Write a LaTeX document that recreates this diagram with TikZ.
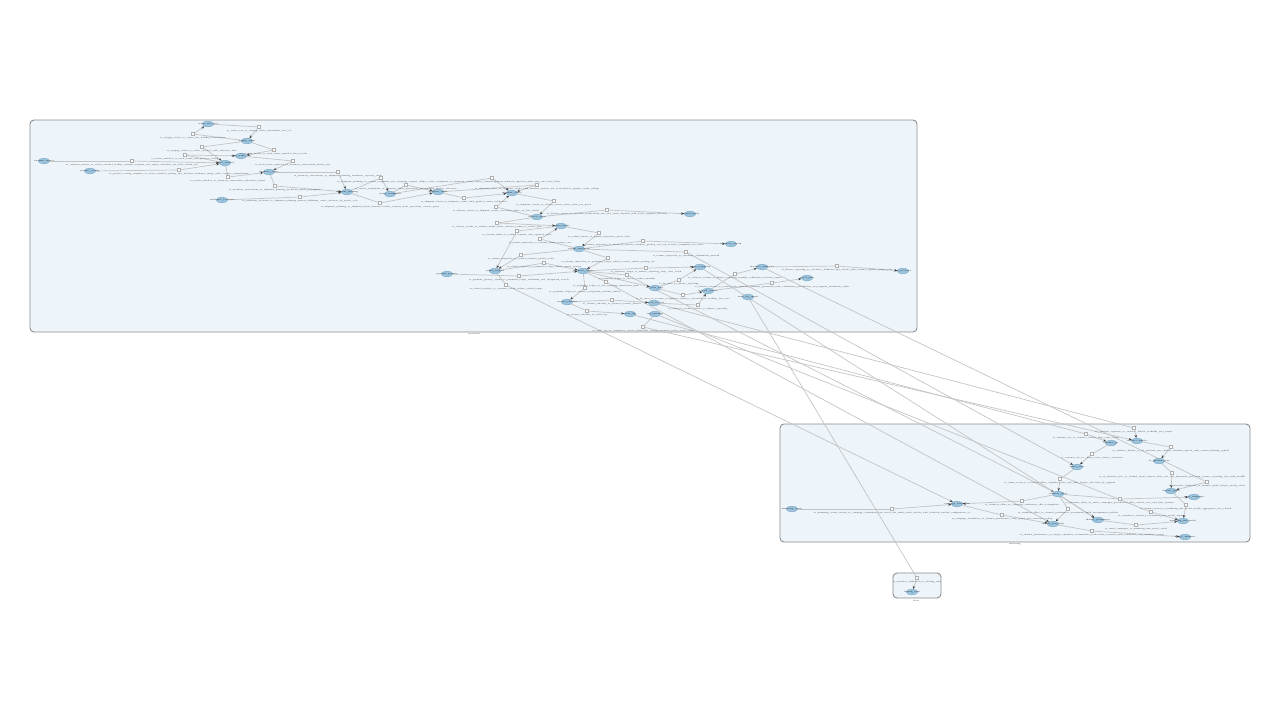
\documentclass[tikz,border=0pt]{standalone}
\usetikzlibrary{arrows.meta,shapes.geometric}
\pgfdeclarelayer{bgclust}
\pgfdeclarelayer{bgedge}
\pgfsetlayers{bgclust,bgedge,main}
\definecolor{clfill}{RGB}{237,244,250}
\definecolor{clline}{RGB}{140,140,140}
\definecolor{nfill}{RGB}{157,197,222}
\definecolor{nline}{RGB}{125,170,200}
\definecolor{edgec}{RGB}{196,196,196}
\definecolor{sqline}{RGB}{175,175,175}
\newcommand\edgevia[3]{\draw[e0] (#1) -- (#2); \draw[ea] (#2) -- (#3);}
\begin{document}
\catcode`\_=12
\begin{tikzpicture}[x=0.5pt,y=-0.5pt,
  cl/.style={draw=clline,fill=clfill,line width=0.45pt,rounded corners=2pt},
  cll/.style={font=\fontsize{0.95}{1.2}\selectfont,inner sep=0pt,text=black!85},
  en/.style={ellipse,draw=nline,fill=nfill,line width=0.25pt,minimum width=5.6pt,minimum height=2.8pt,inner sep=0pt},
  nt/.style={font=\fontsize{0.95}{1.2}\selectfont,inner sep=0pt,text=black},
  sq/.style={rectangle,draw=sqline,fill=white,line width=0.25pt,minimum size=1.7pt,inner sep=0pt},
  lab/.style={font=\fontsize{0.92}{1.1}\selectfont,inner sep=0pt,text=black!88},
  e0/.style={draw=edgec,line width=0.35pt},
  ea/.style={draw=edgec,line width=0.35pt,-{Stealth[length=1.5pt,width=1.2pt,color=black!75]}},
  label distance=0.25pt
]
\useasboundingbox (0,0) rectangle (1280,720);
\begin{pgfonlayer}{bgclust}
\draw[cl] (30,120) rectangle (917,332);
\draw[cl] (780,424) rectangle (1250,542);
\draw[cl] (893,573) rectangle (941,598);
\end{pgfonlayer}
\node[cll] (k1) at (474,334.5) {operations};
\node[cll] (k2) at (1015,544.5) {marketing};
\node[cll] (k3) at (916,600.5) {alerts};

% main cluster nodes
\node[en,label={[nt]center:orders_raw_feed}] (m1) at (208,124) {};
\node[en,label={[nt]center:staging_orders}] (m2) at (247,141) {};
\node[en,label={[nt]center:order_items_exp}] (m3) at (241,156) {};
\node[en,label={[nt]center:customer_master}] (m4) at (44,161) {};
\node[en,label={[nt]center:orders_enriched}] (m5) at (225,163) {};
\node[en,label={[nt]center:product_catalog}] (m6) at (90,171) {};
\node[en,label={[nt]center:inventory_reserv}] (m7) at (269,172) {};
\node[en,label={[nt]center:warehouse_locations}] (m8) at (222,200) {};
\node[en,label={[nt]center:shipment_planning}] (m9) at (347,192) {};
\node[en,label={[nt]center:carrier_assignment}] (m10) at (390,194) {};
\node[en,label={[nt]center:shipment_labels}] (m11) at (438,192) {};
\node[en,label={[nt]center:shipment_events}] (m12) at (512,193) {};
\node[en,label={[nt]center:customer_notify}] (m13) at (690,214) {};
\node[en,label={[nt]center:delivery_status}] (m14) at (537,217) {};
\node[en,label={[nt]center:returns_intake}] (m15) at (561,226) {};
\node[en,label={[nt]center:inventory_restock}] (m16) at (731,244) {};
\node[en,label={[nt]center:returns_inspection}] (m17) at (579,249) {};
\node[en,label={[nt]center:payment_gateway}] (m18) at (447,274) {};
\node[en,label={[nt]center:refund_requests}] (m19) at (495,271) {};
\node[en,label={[nt]center:payments_ledger}] (m20) at (583,271) {};
\node[en,label={[nt]center:finance_reporting}] (m21) at (700,267) {};
\node[en,label={[nt]center:executive_dashboard}] (m22) at (762,267) {};
\node[en,label={[nt]center:kpi_scorecard}] (m23) at (903,271) {};
\node[en,label={[nt]center:board_pack}] (m24) at (807,278) {};
\node[en,label={[nt]center:fx_rates_daily}] (m25) at (655,288) {};
\node[en,label={[nt]center:deferred_revenue}] (m26) at (708,291) {};
\node[en,label={[nt]center:audit_log_export}] (m27) at (748,297) {};
\node[en,label={[nt]center:revenue_schedule}] (m28) at (567,302) {};
\node[en,label={[nt]center:deferred_rev_bal}] (m29) at (654,303) {};
\node[en,label={[nt]center:audit_log}] (m30) at (630,314) {};
\node[en,label={[nt]center:tax_reporting}] (m31) at (655,314) {};

% main cluster edge label squares
\node[sq,label={[lab]below:rs_orders_raw_to_staging_orders_incremental_load_v2}] (s1) at (259,127) {};
\node[sq,label={[lab]below:rs_staging_orders_to_orders_raw_backfill_reconciliation}] (s2) at (193,134) {};
\node[sq,label={[lab]below:rs_staging_orders_to_orders_enriched_with_customer_dims}] (s3) at (202,147) {};
\node[sq,label={[lab]below:rs_staging_orders_to_order_items_exploded_line_records}] (s4) at (274,150) {};
\node[sq,label={[lab]below:rs_orders_enriched_to_order_items_join_product_catalog}] (s5) at (185,155) {};
\node[sq,label={[lab]below:rs_customer_master_to_orders_enriched_lookup_customer_segment_and_region_attributes_for_daily_refresh_job}] (s6) at (132,161) {};
\node[sq,label={[lab]below:rs_order_items_exploded_to_inventory_reservations_hourly_sync}] (s7) at (293,161) {};
\node[sq,label={[lab]below:rs_product_catalog_snapshot_to_orders_enriched_pricing_and_discount_attributes_merge_with_currency_normalisation}] (s8) at (179,170) {};
\node[sq,label={[lab]below:rs_orders_enriched_to_inventory_reservations_allocation_request}] (s9) at (228,177) {};
\node[sq,label={[lab]below:rs_inventory_reservations_to_shipment_planning_warehouse_capacity_check}] (s10) at (338,172) {};
\node[sq,label={[lab]below:rs_inventory_reservations_to_shipment_planning_backorder_queue_propagation}] (s11) at (275,186) {};
\node[sq,label={[lab]below:rs_warehouse_locations_to_shipment_planning_nearest_fulfilment_centre_selection_by_postal_code}] (s12) at (300,197) {};
\node[sq,label={[lab]below:rs_shipment_planning_to_carrier_assignment_rate_shopping_request_daily}] (s13) at (381,178) {};
\node[sq,label={[lab]below:rs_carrier_assignment_to_shipment_labels_generation_and_tracking_number_allocation}] (s14) at (406,185) {};
\node[sq,label={[lab]below:rs_shipment_planning_to_shipment_labels_manual_override_requests_from_operations_console_queue}] (s15) at (380,203) {};
\node[sq,label={[lab]below:rs_shipment_labels_to_shipment_events_label_printed_status_notification}] (s16) at (464,198) {};
\node[sq,label={[lab]below:rs_carrier_assignment_to_shipment_events_carrier_acknowledgement_webhook_ingestion_with_retry_and_dead_letter}] (s17) at (492,178) {};
\node[sq,label={[lab]below:rs_shipment_labels_to_shipment_events_bulk_manifest_upload_and_reconciliation_against_carrier_pickup}] (s18) at (537,185) {};
\node[sq,label={[lab]below:rs_shipment_events_to_delivery_status_latest_event_per_parcel}] (s19) at (554,201) {};
\node[sq,label={[lab]below:rs_delivery_status_to_shipment_events_correction_replay_on_late_arrival}] (s20) at (496,207) {};
\node[sq,label={[lab]below:rs_delivery_status_to_customer_notifications_sms_and_email_dispatch_with_locale_template_selection}] (s21) at (607,210) {};
\node[sq,label={[lab]below:rs_delivery_status_to_returns_intake_failed_delivery_return_to_sender_flow}] (s22) at (497,223) {};
\node[sq,label={[lab]below:rs_returns_intake_to_refund_requests_auto_approval_rules}] (s23) at (517,231) {};
\node[sq,label={[lab]below:rs_returns_intake_to_returns_inspection_queue_daily}] (s24) at (599,233) {};
\node[sq,label={[lab]below:rs_returns_inspection_to_returns_intake_reopen_case}] (s25) at (540,239) {};
\node[sq,label={[lab]below:rs_returns_inspection_to_inventory_restock_condition_grading_and_bin_location_assignment_for_resale}] (s26) at (643,241) {};
\node[sq,label={[lab]below:rs_returns_inspection_to_inventory_adjustments_writeoff}] (s27) at (686,252) {};
\node[sq,label={[lab]below:rs_returns_inspection_to_refund_requests_partial_credit}] (s28) at (521,255) {};
\node[sq,label={[lab]below:rs_returns_inspection_to_payments_ledger_refund_reversal_entries_posting_job}] (s29) at (608,258) {};
\node[sq,label={[lab]below:rs_refund_requests_to_payments_ledger_refund_entries_posting}] (s30) at (544,263) {};
\node[sq,label={[lab]below:rs_payment_gateway_events_to_payments_ledger_settlement_and_chargeback_records}] (s31) at (519,276) {};
\node[sq,label={[lab]below:rs_payments_ledger_to_finance_reporting_daily_close_batch}] (s32) at (646,268) {};
\node[sq,label={[lab]below:rs_payments_ledger_to_invoice_archive_monthly}] (s33) at (627,275) {};
\node[sq,label={[lab]below:rs_payments_ledger_to_tax_reporting_jurisdiction_split}] (s34) at (606,282) {};
\node[sq,label={[lab]below:rs_refund_requests_to_customer_credit_balance_wallet_topup}] (s35) at (506,285) {};
\node[sq,label={[lab]below:rs_fx_rates_to_finance_reporting}] (s36) at (679,280) {};
\node[sq,label={[lab]below:rs_payments_ledger_to_revenue_recognition_schedule_builder}] (s37) at (585,288) {};
\node[sq,label={[lab]below:rs_fx_rates_to_revenue_recognition_currency_conversion_at_booking_date_rate}] (s38) at (683,295) {};
\node[sq,label={[lab]below:rs_revenue_schedule_to_deferred_revenue_balance}] (s39) at (612,300) {};
\node[sq,label={[lab]below:rs_revenue_schedule_to_audit_log}] (s40) at (587,311) {};
\node[sq,label={[lab]below:rs_audit_log_to_compliance_archive_immutable_storage_retention_policy_seven_years}] (s41) at (643,327) {};
\node[sq,label={[lab]below:rs_finance_reporting_to_executive_dashboard_kpi_refresh_with_variance_against_budget_plan}] (s42) at (837,266) {};
\node[sq,label={[lab]below:rs_deferred_revenue_to_finance_reporting_monthly_rollforward_schedule_export}] (s43) at (735,274) {};
\node[sq,label={[lab]below:rs_deferred_revenue_to_board_pack_quarterly_summary_generation_with_commentary_placeholders_and_segment_breakdown_tables}] (s44) at (772,283) {};
\node[sq,label={[lab]below:rs_deferred_revenue_balance_to_finance_reporting}] (s45) at (698,305) {};

% cluster 2 nodes
\node[en,label={[nt]center:marketing_events}] (c1) at (792,509) {};
\node[en,label={[nt]center:campaign_attribution}] (c2) at (957,504) {};
\node[en,label={[nt]center:audience_builder}] (c3) at (1137,441) {};
\node[en,label={[nt]center:customer_ltv}] (c4) at (1111,443) {};
\node[en,label={[nt]center:ad_platform_sync}] (c5) at (1159,461) {};
\node[en,label={[nt]center:churn_scores}] (c6) at (1077,467) {};
\node[en,label={[nt]center:channel_spend}] (c7) at (1171,491) {};
\node[en,label={[nt]center:retention_offers}] (c8) at (1058,494) {};
\node[en,label={[nt]center:email_campaigns}] (c9) at (1194,497) {};
\node[en,label={[nt]center:channel_performance}] (c10) at (1098,520) {};
\node[en,label={[nt]center:marketing_mix_model}] (c11) at (1183,521) {};
\node[en,label={[nt]center:channel_perf_daily}] (c12) at (1053,524) {};
\node[en,label={[nt]center:budget_optimiser}] (c13) at (1185,537) {};

\node[sq,label={[lab]below:rs_marketing_events_stream_to_campaign_attribution_last_touch_and_multi_touch_models_with_lookback_window_configuration_v3}] (t1) at (892,509) {};
\node[sq,label={[lab]below:rs_campaign_attribution_to_channel_performance_daily_spend_and_conversion_rollup}] (t2) at (1002,515) {};
\node[sq,label={[lab]below:rs_customer_segments_to_audience_builder_lookalike_seed_export}] (t3) at (1134,428) {};
\node[sq,label={[lab]below:rs_customer_ltv_to_audience_builder_high_value_cohort}] (t4) at (1086,434) {};
\node[sq,label={[lab]below:rs_audience_builder_to_ad_platform_sync_hashed_identifier_upload_with_consent_filtering_applied}] (t5) at (1171,447) {};
\node[sq,label={[lab]below:rs_customer_ltv_to_churn_scores_feature_extraction}] (t6) at (1092,454) {};
\node[sq,label={[lab]below:rs_ad_platform_sync_to_channel_spend_import_daily_cost_and_impression_pull_from_partner_reporting_apis_with_backfill}] (t7) at (1172,473) {};
\node[sq,label={[lab]below:rs_churn_scores_to_retention_offers_eligibility_rules_and_offer_budget_allocation_by_segment}] (t8) at (1060,479) {};
\node[sq,label={[lab]below:rs_executive_dashboard_to_channel_spend_budget_pacing_alerts}] (t9) at (1207,482) {};
\node[sq,label={[lab]below:rs_retention_offers_to_campaign_attribution_offer_redemptions}] (t10) at (1022,501) {};
\node[sq,label={[lab]below:rs_retention_offers_to_email_campaigns_personalised_offer_content_and_send_time_optimise}] (t11) at (1120,499) {};
\node[sq,label={[lab]below:rs_retention_offers_to_channel_performance_incremental_uplift_measurement_holdout}] (t12) at (1068,509) {};
\node[sq,label={[lab]below:rs_channel_spend_to_marketing_mix_model_weekly_aggregation_and_adstock}] (t13) at (1186,505) {};
\node[sq,label={[lab]below:rs_compliance_archive_to_marketing_mix_model_inputs}] (t14) at (1151,512) {};
\node[sq,label={[lab]below:rs_email_campaigns_to_marketing_mix_model_sends}] (t15) at (1136,525) {};
\node[sq,label={[lab]below:rs_channel_performance_to_budget_optimiser_recommended_reallocation_scenarios_with_constraints_and_confidence_bands}] (t16) at (1092,531) {};

% cluster 3
\node[sq,label={[lab]below:rs_executive_dashboard_to_alerting_rules}] (u1) at (917,578) {};
\node[en,label={[nt]center:alerting_rules}] (z1) at (912,592) {};

\begin{pgfonlayer}{bgedge}
\edgevia{m1}{s1}{m2}
\edgevia{m2}{s2}{m1}
\edgevia{m2}{s3}{m5}
\edgevia{m2}{s4}{m3}
\edgevia{m5}{s5}{m3}
\edgevia{m4}{s6}{m5}
\edgevia{m3}{s7}{m7}
\edgevia{m6}{s8}{m5}
\edgevia{m5}{s9}{m7}
\edgevia{m7}{s10}{m9}
\edgevia{m7}{s11}{m9}
\edgevia{m8}{s12}{m9}
\edgevia{m9}{s13}{m10}
\edgevia{m10}{s14}{m11}
\edgevia{m9}{s15}{m11}
\edgevia{m11}{s16}{m12}
\edgevia{m10}{s17}{m12}
\edgevia{m11}{s18}{m12}
\edgevia{m12}{s19}{m14}
\edgevia{m14}{s20}{m12}
\edgevia{m14}{s21}{m13}
\edgevia{m14}{s22}{m15}
\edgevia{m15}{s23}{m19}
\edgevia{m15}{s24}{m17}
\edgevia{m17}{s25}{m15}
\edgevia{m17}{s26}{m16}
\edgevia{m17}{s27}{c6}
\edgevia{m17}{s28}{m19}
\edgevia{m17}{s29}{m20}
\edgevia{m19}{s30}{m20}
\edgevia{m18}{s31}{m20}
\edgevia{m20}{s32}{m21}
\edgevia{m20}{s33}{c8}
\edgevia{m20}{s34}{c12}
\edgevia{m19}{s35}{c2}
\edgevia{m25}{s36}{m21}
\edgevia{m20}{s37}{m28}
\edgevia{m25}{s38}{m26}
\edgevia{m28}{s39}{m29}
\edgevia{m28}{s40}{m30}
\edgevia{m31}{s41}{c3}
\edgevia{m22}{s42}{m23}
\edgevia{m26}{s43}{m22}
\edgevia{m26}{s44}{m24}
\edgevia{m29}{s45}{m26}
\draw[ea] (m20) -- (m25);
\draw[ea] (m21) -- (c10);
\edgevia{m29}{t3}{c3}
\edgevia{m30}{t4}{c4}
\edgevia{m31}{t14}{c11}
\edgevia{m22}{t9}{c7}
\edgevia{m27}{u1}{z1}
\edgevia{c1}{t1}{c2}
\edgevia{c2}{t2}{c12}
\edgevia{c8}{t10}{c2}
\edgevia{c3}{t5}{c5}
\edgevia{c4}{t6}{c6}
\edgevia{c5}{t7}{c7}
\edgevia{c6}{t8}{c8}
\edgevia{c8}{t11}{c9}
\edgevia{c8}{t12}{c12}
\draw[ea] (c8) -- (c10);
\edgevia{c7}{t13}{c11}
\edgevia{c10}{t15}{c11}
\edgevia{c12}{t16}{c13}
\end{pgfonlayer}
\end{tikzpicture}
\end{document}
